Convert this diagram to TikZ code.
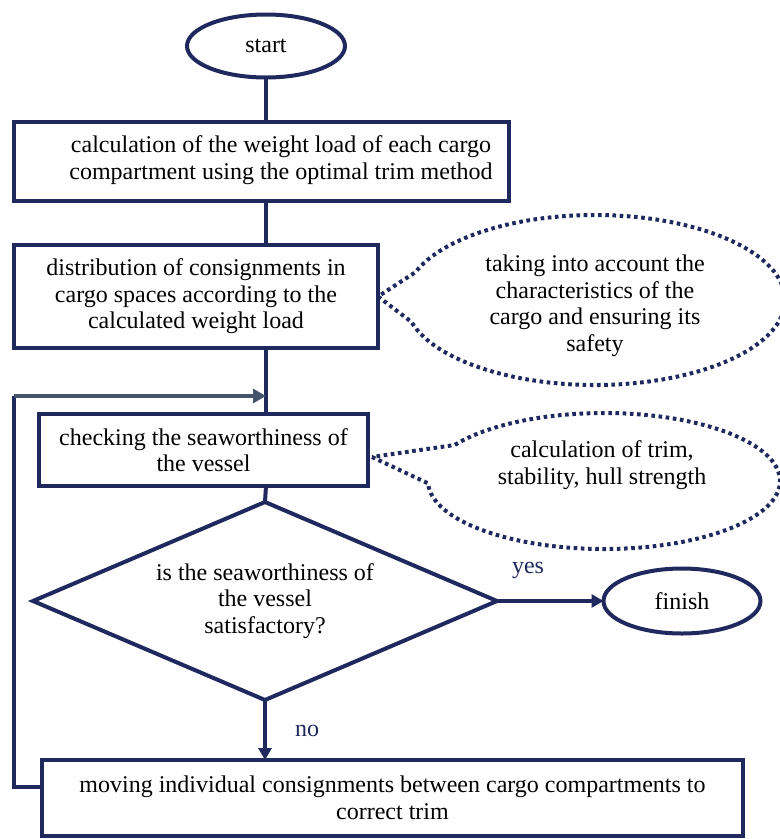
\documentclass[tikz,border=0pt]{standalone}
\usepackage{fontspec}
\setmainfont{Liberation Serif}
\usetikzlibrary{shapes.geometric,shapes.callouts,arrows.meta}
\definecolor{navy}{RGB}{31,41,94}
\definecolor{slate}{RGB}{68,84,106}
\begin{document}
\begin{tikzpicture}[x=1pt,y=-1pt,
  every node/.style={font=\fontsize{24}{26.5}\selectfont, inner sep=0pt, outer sep=0pt},
  box/.style={draw=navy, line width=4pt, rectangle},
  term/.style={draw=navy, line width=4pt, ellipse},
  note/.style={ellipse callout, draw=navy, line width=4pt, dash pattern=on 3.6pt off 3.6pt, callout pointer arc=34},
  conn/.style={draw=navy, line width=4pt},
  arr/.style={conn, -{Triangle[length=12pt,width=13pt]}},
  lbl/.style={text=navy}]
\useasboundingbox (0,0) rectangle (780,839);

% terminals
\node[term, minimum width=158pt, minimum height=63pt] (start) at (266,46) {start};
\node[term, minimum width=157pt, minimum height=65pt] (finish) at (682,601) {finish};

% boxes
\node[box, minimum width=495pt, minimum height=79pt] (b1) at (261.5,161.5) {};
\node[align=center] (t1) at (281,160) {calculation of the weight load of each cargo\\compartment using the optimal trim method};

\node[box, minimum width=364pt, minimum height=103pt, align=center] (b2) at (196,296.5) {distribution of consignments in\\cargo spaces according to the\\calculated weight load};

\node[box, minimum width=329pt, minimum height=72pt, align=center] (b3) at (203.5,450) {checking the seaworthiness of\\the vessel};

\node[box, minimum width=701pt, minimum height=76pt, align=center] (b4) at (392.5,798) {moving individual consignments between cargo compartments to\\correct trim};

% decision
\node[diamond, draw=navy, line width=4pt, shape aspect=2.34, minimum width=464pt, minimum height=198pt, align=center] (d) at (265,601) {is the seaworthiness of\\the vessel\\satisfactory?};

% callouts
\node[note, minimum width=380pt, minimum height=170pt, callout absolute pointer=(b2.east)] (c1) at (595,300) {};
\node[align=center] (ct1) at (595,306) {taking into account the\\characteristics of the\\cargo and ensuring its\\safety};

\coordinate (p2) at (372,457);
\node[note, minimum width=352pt, minimum height=136pt, callout absolute pointer=(p2)] (c2) at (604,481) {};
\node[align=center] (ct2) at (602,465) {calculation of trim,\\stability, hull strength};

% connectors
\draw[conn] (start.south) -- (b1.north -| start.south);
\draw[conn] (b1.south -| start.south) -- (b2.north -| start.south);
\draw[conn] (b2.south -| start.south) -- (b3.north -| start.south);
\draw[conn] (b3.south -| start.south) -- (d.north);
\draw[arr] (d.south) -- (b4.north -| d.south);
\draw[arr] (d.east) -- (finish.west);

% loop back
\coordinate (ls) at (42,787);
\coordinate (lc) at (14,396);
\coordinate (lj) at (266,396);
\draw[conn] (ls) -| (lc);
\draw[draw=slate, line width=4pt, -{Triangle[length=13pt,width=14pt]}] (lc) -- (lj);

% labels
\node[lbl] (yes) at (528,570) {yes};
\node[lbl] (no) at (307,731) {no};
\end{tikzpicture}
\end{document}
